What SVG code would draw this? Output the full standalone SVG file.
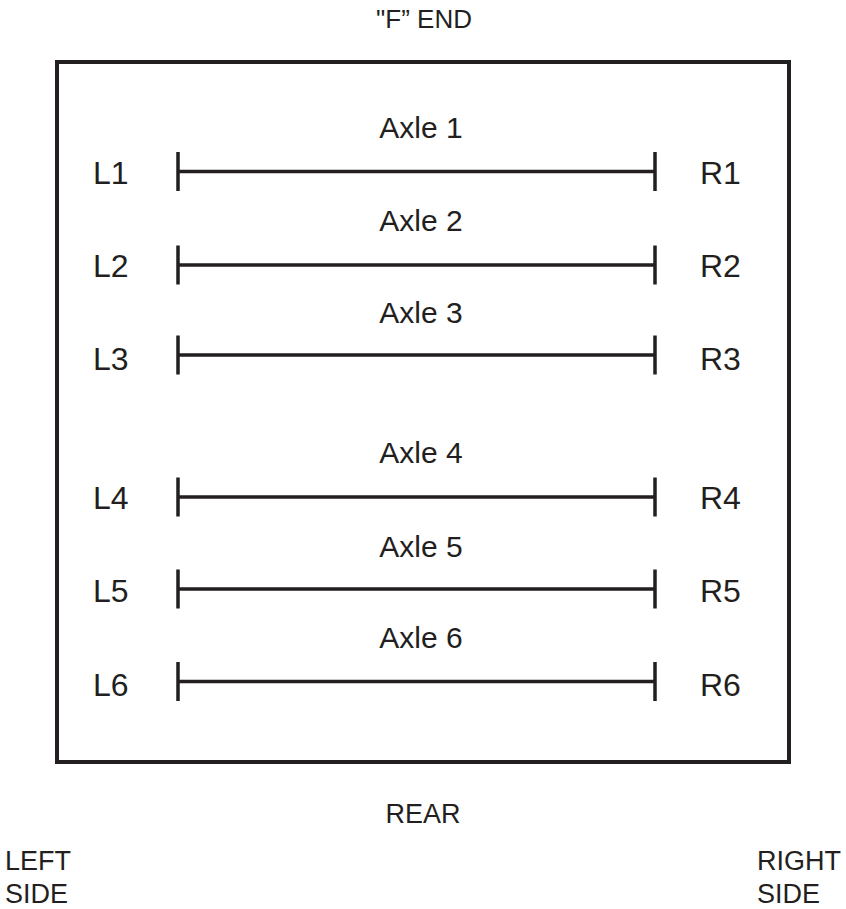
<svg xmlns="http://www.w3.org/2000/svg" width="846" height="909" viewBox="0 0 846 909">
<style>
text{font-family:"Liberation Sans",Arial,sans-serif;fill:#231f20}
.t{font-size:26px;text-anchor:middle}
.ax{font-size:30px;text-anchor:middle}
.lb{font-size:32px}
.sd{font-size:27px}
.ln{stroke:#231f20;stroke-width:3.5;fill:none}
</style>
<rect width="846" height="909" fill="#fff"/>
<text class="t" x="424" y="28">"F” END</text>
<g id="frame"><rect x="57" y="62" width="732" height="700" fill="none" stroke="#231f20" stroke-width="4"/></g>
<g id="connectors">
<g id="axle1"><path class="ln" d="M178 171.5H655M178 152V191M655 152V191"/></g>
<g id="axle2"><path class="ln" d="M178 265H655M178 245.5V284.5M655 245.5V284.5"/></g>
<g id="axle3"><path class="ln" d="M178 355H655M178 335.5V374.5M655 335.5V374.5"/></g>
<g id="axle4"><path class="ln" d="M178 497H655M178 477.5V516.5M655 477.5V516.5"/></g>
<g id="axle5"><path class="ln" d="M178 589H655M178 569.5V608.5M655 569.5V608.5"/></g>
<g id="axle6"><path class="ln" d="M178 681.5H655M178 662V701M655 662V701"/></g>
</g>
<g id="labels">
<text class="ax" x="421" y="138">Axle 1</text>
<text class="ax" x="421" y="231">Axle 2</text>
<text class="ax" x="421" y="323">Axle 3</text>
<text class="ax" x="421" y="463">Axle 4</text>
<text class="ax" x="421" y="557">Axle 5</text>
<text class="ax" x="421" y="648">Axle 6</text>
<text class="lb" x="93" y="184">L1</text>
<text class="lb" x="93" y="277">L2</text>
<text class="lb" x="93" y="370">L3</text>
<text class="lb" x="93" y="509">L4</text>
<text class="lb" x="93" y="602">L5</text>
<text class="lb" x="93" y="696">L6</text>
<text class="lb" x="700" y="184">R1</text>
<text class="lb" x="700" y="277">R2</text>
<text class="lb" x="700" y="370">R3</text>
<text class="lb" x="700" y="509">R4</text>
<text class="lb" x="700" y="602">R5</text>
<text class="lb" x="700" y="696">R6</text>
</g>
<text class="t" x="423" y="823" style="font-size:27px">REAR</text>
<text class="sd" x="5" y="870">LEFT</text>
<text class="sd" x="5" y="903">SIDE</text>
<text class="sd" x="757" y="870">RIGHT</text>
<text class="sd" x="757" y="903">SIDE</text>
</svg>
